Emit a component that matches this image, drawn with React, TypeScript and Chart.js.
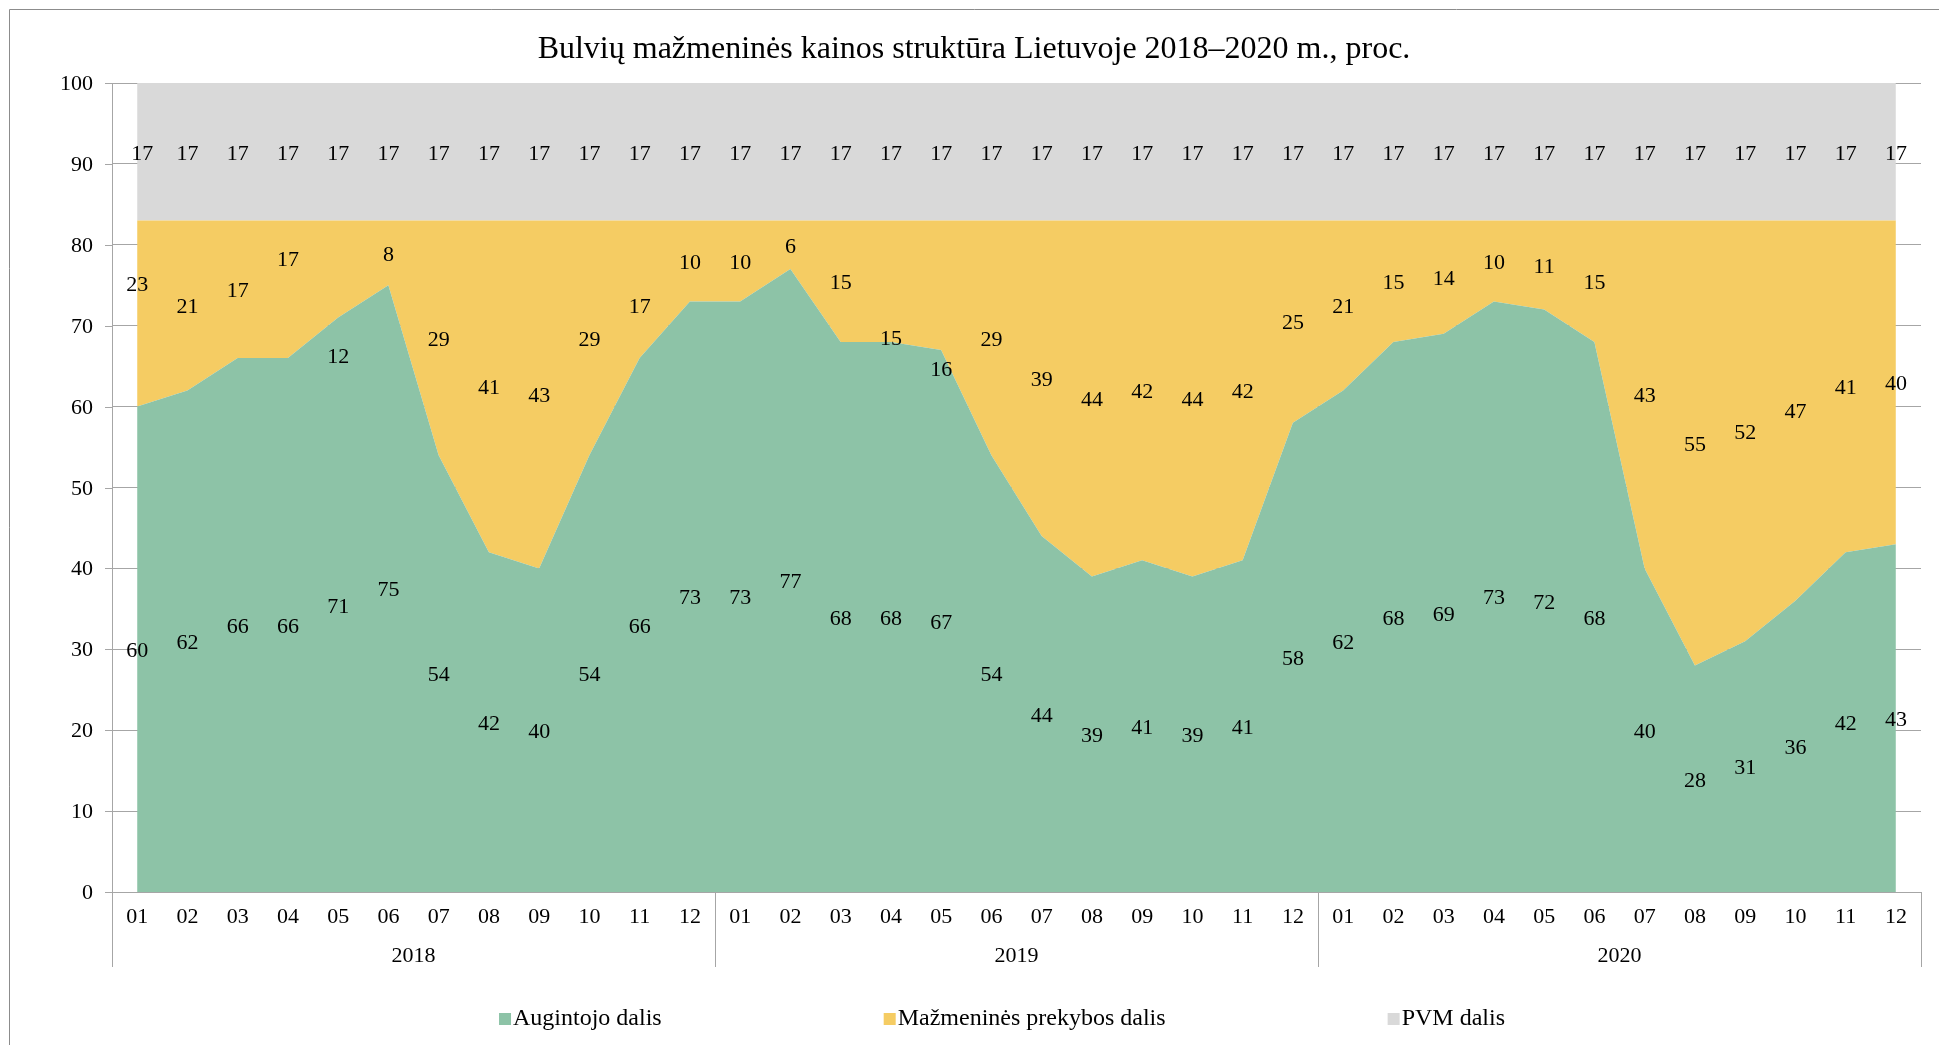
import React, { useEffect, useRef } from "react";
import { Chart, registerables } from "chart.js";

Chart.register(...registerables);

const TITLE = "Bulvių mažmeninės kainos struktūra Lietuvoje 2018–2020 m., proc.";
const MONTHS = ["01", "02", "03", "04", "05", "06", "07", "08", "09", "10", "11", "12"];
const YEARS = ["2018", "2019", "2020"];
const SERIES_NAMES = ["Augintojo dalis", "Mažmeninės prekybos dalis", "PVM dalis"];

const GROWER = [
  60, 62, 66, 66, 71, 75, 54, 42, 40, 54, 66, 73,
  73, 77, 68, 68, 67, 54, 44, 39, 41, 39, 41, 58,
  62, 68, 69, 73, 72, 68, 40, 28, 31, 36, 42, 43,
];
const RETAIL = [
  23, 21, 17, 17, 12, 8, 29, 41, 43, 29, 17, 10,
  10, 6, 15, 15, 16, 29, 39, 44, 42, 44, 42, 25,
  21, 15, 14, 10, 11, 15, 43, 55, 52, 47, 41, 40,
];
const VAT = [
  17, 17, 17, 17, 17, 17, 17, 17, 17, 17, 17, 17,
  17, 17, 17, 17, 17, 17, 17, 17, 17, 17, 17, 17,
  17, 17, 17, 17, 17, 17, 17, 17, 17, 17, 17, 17,
];

// manually moved data labels of the retail series (shift in percentage points)
const RETAIL_LABEL_SHIFT: Record<number, number> = { 0: 3.7, 3: 3.9, 4: -10.6, 10: -2, 15: -6.9, 16: -10.2 };

const COLORS = ["#8DC3A7", "#F5CC63", "#D9D9D9"];
const FONT = "'Liberation Serif', 'Times New Roman', serif";
const GRID = "#A6A6A6";

const W = 1939;
const H = 1045;

const customPlugin = {
  id: "customDecor",
  beforeDraw(chart: any) {
    const ctx = chart.ctx;
    ctx.save();
    ctx.fillStyle = "#fff";
    ctx.fillRect(0, 0, chart.width, chart.height);
    ctx.strokeStyle = "#8C8C8C";
    ctx.lineWidth = 1;
    ctx.beginPath();
    ctx.moveTo(9.5, chart.height);
    ctx.lineTo(9.5, 9.5);
    ctx.lineTo(chart.width, 9.5);
    ctx.stroke();
    ctx.restore();
  },
  afterDatasetsDraw(chart: any) {
    const ctx = chart.ctx;
    const xs = chart.scales.x;
    const ys = chart.scales.y;
    const series = [GROWER, RETAIL, VAT];
    ctx.save();
    ctx.fillStyle = "#000";
    ctx.font = `22px ${FONT}`;
    ctx.textAlign = "center";
    ctx.textBaseline = "middle";
    for (let j = 0; j < GROWER.length; j++) {
      let base = 0;
      series.forEach((s, i) => {
        let mid = base + s[j] / 2;
        if (i === 1 && RETAIL_LABEL_SHIFT[j] !== undefined) mid += RETAIL_LABEL_SHIFT[j];
        base += s[j];
        let x = xs.getPixelForValue(j);
        if (i === 2 && j === 0) x += 5;
        ctx.fillText(String(s[j]), x, ys.getPixelForValue(mid) + 2);
      });
    }
    ctx.restore();
  },
  afterDraw(chart: any) {
    const ctx = chart.ctx;
    const xs = chart.scales.x;
    const ys = chart.scales.y;
    const area = chart.chartArea;
    ctx.save();
    // y ticks
    ctx.strokeStyle = GRID;
    ctx.lineWidth = 1;
    ctx.fillStyle = "#000";
    ctx.font = `22px ${FONT}`;
    ctx.textAlign = "right";
    ctx.textBaseline = "middle";
    ys.ticks.forEach((t: any) => {
      const y = Math.round(ys.getPixelForValue(t.value)) + 0.5;
      ctx.beginPath();
      ctx.moveTo(area.left - 7, y);
      ctx.lineTo(area.left, y);
      ctx.stroke();
      ctx.fillText(String(t.value), area.left - 19, y + 1);
    });
    // x month labels
    ctx.textAlign = "center";
    const n = GROWER.length;
    for (let i = 0; i < n; i++) {
      ctx.fillText(MONTHS[i % 12], xs.getPixelForValue(i), area.bottom + 25);
    }
    // year labels and separators
    const half = (xs.getPixelForValue(1) - xs.getPixelForValue(0)) / 2;
    for (let k = 0; k <= YEARS.length; k++) {
      const x = Math.round(xs.getPixelForValue(k * 12) - half) + 0.5;
      ctx.beginPath();
      ctx.moveTo(x, area.bottom);
      ctx.lineTo(x, area.bottom + 75);
      ctx.stroke();
      if (k < YEARS.length) {
        const cx = (xs.getPixelForValue(k * 12) + xs.getPixelForValue(k * 12 + 11)) / 2;
        ctx.fillText(YEARS[k], cx, area.bottom + 64);
      }
    }
    // title
    ctx.font = `32px ${FONT}`;
    ctx.fillText(TITLE, (9 + chart.width) / 2, 49.5);
    // legend
    ctx.font = `24px ${FONT}`;
    ctx.textAlign = "left";
    const box = 12;
    const gap = 222;
    const widths = SERIES_NAMES.map((s) => box + 2 + ctx.measureText(s).width);
    const total = widths.reduce((a, b) => a + b, 0) + gap * (widths.length - 1);
    let x = 1002 - total / 2;
    const ly = 1019;
    SERIES_NAMES.forEach((s, i) => {
      ctx.fillStyle = COLORS[i];
      ctx.fillRect(x, ly - box / 2, box, box);
      ctx.fillStyle = "#000";
      ctx.fillText(s, x + box + 2, ly);
      x += widths[i] + gap;
    });
    ctx.restore();
  },
};

export default function App() {
  const ref = useRef<HTMLCanvasElement | null>(null);
  useEffect(() => {
    if (!ref.current) return;
    const labels = YEARS.flatMap((y) => MONTHS.map((m) => `${y}-${m}`));
    const chart = new Chart(ref.current, {
      type: "line",
      data: {
        labels,
        datasets: [
          { label: SERIES_NAMES[0], data: GROWER, backgroundColor: COLORS[0], borderWidth: 0, pointRadius: 0, fill: "origin" },
          { label: SERIES_NAMES[1], data: RETAIL, backgroundColor: COLORS[1], borderWidth: 0, pointRadius: 0, fill: "-1" },
          { label: SERIES_NAMES[2], data: VAT, backgroundColor: COLORS[2], borderWidth: 0, pointRadius: 0, fill: "-1" },
        ],
      },
      options: {
        responsive: false,
        animation: false,
        devicePixelRatio: 1,
        layout: { padding: { left: 112, right: W - 1921, top: 83, bottom: H - 892 } },
        plugins: { legend: { display: false }, title: { display: false }, tooltip: { enabled: false } },
        elements: { line: { tension: 0 } },
        scales: {
          x: {
            offset: true,
            grid: { display: false, drawTicks: false },
            border: { display: true, color: GRID, width: 1 },
            ticks: { display: false },
          },
          y: {
            stacked: true,
            min: 0,
            max: 100,
            ticks: { display: false, stepSize: 10 },
            grid: { color: GRID, lineWidth: 1, drawTicks: false },
            border: { display: true, color: GRID, width: 1 },
          },
        },
      },
      plugins: [customPlugin],
    });
    return () => chart.destroy();
  }, []);
  return (
    <div style={{ position: "fixed", left: 0, top: 0, width: W, height: H, background: "#fff" }}>
      <canvas ref={ref} width={W} height={H} style={{ display: "block", width: W, height: H }} />
    </div>
  );
}
